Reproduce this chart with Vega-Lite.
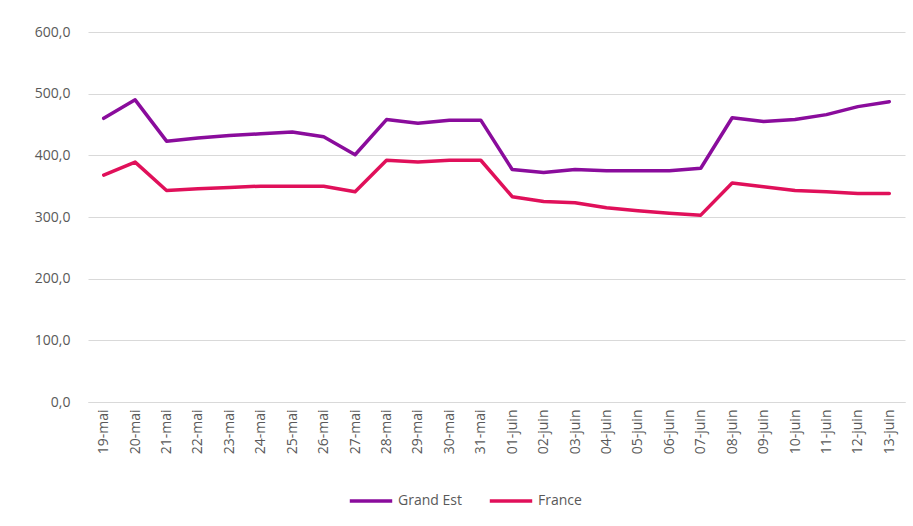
{
  "$schema": "https://vega.github.io/schema/vega-lite/v6.json",
  "width": 817,
  "height": 370,
  "autosize": {"type": "none"},
  "padding": {"left": 88, "top": 32, "right": 8, "bottom": 124},
  "background": "white",
  "config": {
    "view": {"stroke": null},
    "font": "Open Sans",
    "axis": {"labelColor": "#595959", "labelFont": "Open Sans", "labelFontSize": 14, "gridColor": "#d9d9d9", "domainColor": "#d9d9d9", "ticks": false},
    "legend": {"labelColor": "#595959", "labelFont": "Open Sans", "labelFontSize": 14}
  },
  "data": {
    "values": [
      {"date": "19-mai", "serie": "Grand Est", "v": 460}, {"date": "20-mai", "serie": "Grand Est", "v": 490},
      {"date": "21-mai", "serie": "Grand Est", "v": 423}, {"date": "22-mai", "serie": "Grand Est", "v": 428},
      {"date": "23-mai", "serie": "Grand Est", "v": 432}, {"date": "24-mai", "serie": "Grand Est", "v": 435},
      {"date": "25-mai", "serie": "Grand Est", "v": 438}, {"date": "26-mai", "serie": "Grand Est", "v": 430},
      {"date": "27-mai", "serie": "Grand Est", "v": 401}, {"date": "28-mai", "serie": "Grand Est", "v": 458},
      {"date": "29-mai", "serie": "Grand Est", "v": 452}, {"date": "30-mai", "serie": "Grand Est", "v": 457},
      {"date": "31-mai", "serie": "Grand Est", "v": 457}, {"date": "01-juin", "serie": "Grand Est", "v": 377},
      {"date": "02-juin", "serie": "Grand Est", "v": 372}, {"date": "03-juin", "serie": "Grand Est", "v": 377},
      {"date": "04-juin", "serie": "Grand Est", "v": 375}, {"date": "05-juin", "serie": "Grand Est", "v": 375},
      {"date": "06-juin", "serie": "Grand Est", "v": 375}, {"date": "07-juin", "serie": "Grand Est", "v": 379},
      {"date": "08-juin", "serie": "Grand Est", "v": 461}, {"date": "09-juin", "serie": "Grand Est", "v": 455},
      {"date": "10-juin", "serie": "Grand Est", "v": 458}, {"date": "11-juin", "serie": "Grand Est", "v": 466},
      {"date": "12-juin", "serie": "Grand Est", "v": 479}, {"date": "13-juin", "serie": "Grand Est", "v": 487},
      {"date": "19-mai", "serie": "France", "v": 368}, {"date": "20-mai", "serie": "France", "v": 389},
      {"date": "21-mai", "serie": "France", "v": 343}, {"date": "22-mai", "serie": "France", "v": 346},
      {"date": "23-mai", "serie": "France", "v": 348}, {"date": "24-mai", "serie": "France", "v": 350},
      {"date": "25-mai", "serie": "France", "v": 350}, {"date": "26-mai", "serie": "France", "v": 350},
      {"date": "27-mai", "serie": "France", "v": 341}, {"date": "28-mai", "serie": "France", "v": 392},
      {"date": "29-mai", "serie": "France", "v": 389}, {"date": "30-mai", "serie": "France", "v": 392},
      {"date": "31-mai", "serie": "France", "v": 392}, {"date": "01-juin", "serie": "France", "v": 333},
      {"date": "02-juin", "serie": "France", "v": 325}, {"date": "03-juin", "serie": "France", "v": 323},
      {"date": "04-juin", "serie": "France", "v": 315}, {"date": "05-juin", "serie": "France", "v": 310},
      {"date": "06-juin", "serie": "France", "v": 306}, {"date": "07-juin", "serie": "France", "v": 303},
      {"date": "08-juin", "serie": "France", "v": 355}, {"date": "09-juin", "serie": "France", "v": 349},
      {"date": "10-juin", "serie": "France", "v": 343}, {"date": "11-juin", "serie": "France", "v": 341},
      {"date": "12-juin", "serie": "France", "v": 338}, {"date": "13-juin", "serie": "France", "v": 338}
    ]
  },
  "mark": {"type": "line", "strokeWidth": 3.5, "strokeJoin": "round", "strokeCap": "round"},
  "encoding": {
    "x": {
      "field": "date", "type": "ordinal", "sort": null, "title": null,
      "scale": {"type": "point", "padding": 0.5},
      "axis": {"labelAngle": -90, "labelPadding": 7, "domain": true, "grid": false}
    },
    "y": {
      "field": "v", "type": "quantitative", "title": null,
      "scale": {"domain": [0, 600], "nice": false},
      "axis": {"values": [0, 100, 200, 300, 400, 500, 600], "domain": false, "labelPadding": 18, "labelExpr": "replace(format(datum.value, '.1f'), '.', ',')"}
    },
    "color": {
      "field": "serie", "type": "nominal", "title": null,
      "scale": {"domain": ["Grand Est", "France"], "range": ["#8A0C9C", "#E0105A"]},
      "legend": {"orient": "none", "legendX": 260, "legendY": 446, "direction": "horizontal", "symbolType": "stroke", "symbolSize": 1800, "symbolStrokeWidth": 3.5, "columnPadding": 20, "labelOffset": 4}
    }
  }
}
